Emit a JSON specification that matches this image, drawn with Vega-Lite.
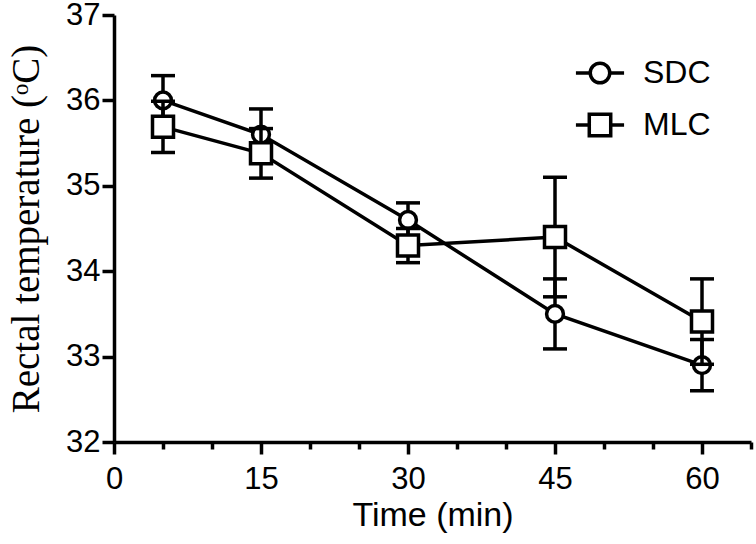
{
  "$schema": "https://vega.github.io/schema/vega-lite/v6.json",
  "width": 637,
  "height": 427,
  "autosize": {"type": "none"},
  "padding": {"left": 114, "top": 15, "right": 5, "bottom": 102},
  "background": "white",
  "config": {
    "view": {"stroke": null},
    "axis": {
      "grid": false,
      "domainColor": "black",
      "domainWidth": 3.5,
      "tickColor": "black",
      "tickWidth": 3.5,
      "labelFont": "Liberation Sans",
      "labelFontSize": 31,
      "labelColor": "black",
      "titleColor": "black"
    }
  },
  "data": {
    "values": [
      {"group": "SDC", "time": 5, "mean": 36.0, "lo": 35.71, "hi": 36.29},
      {"group": "SDC", "time": 15, "mean": 35.6, "lo": 35.3, "hi": 35.9},
      {"group": "SDC", "time": 30, "mean": 34.6, "lo": 34.4, "hi": 34.8},
      {"group": "SDC", "time": 45, "mean": 33.5, "lo": 33.09, "hi": 33.91},
      {"group": "SDC", "time": 60, "mean": 32.9, "lo": 32.6, "hi": 33.2},
      {"group": "MLC", "time": 5, "mean": 35.69, "lo": 35.39, "hi": 35.99},
      {"group": "MLC", "time": 15, "mean": 35.38, "lo": 35.09, "hi": 35.67},
      {"group": "MLC", "time": 30, "mean": 34.3, "lo": 34.1, "hi": 34.5},
      {"group": "MLC", "time": 45, "mean": 34.4, "lo": 33.7, "hi": 35.1},
      {"group": "MLC", "time": 60, "mean": 33.41, "lo": 32.91, "hi": 33.91}
    ]
  },
  "layer": [
    {
      "transform": [{"filter": "datum.group === 'SDC'"}],
      "encoding": {
        "x": {
          "field": "time", "type": "quantitative",
          "scale": {"domain": [0, 65], "nice": false, "zero": false},
          "axis": {
            "values": [0, 5, 10, 15, 20, 25, 30, 35, 40, 45, 50, 55, 60, 65],
            "labelExpr": "datum.value % 15 === 0 ? format(datum.value, 'd') : ''",
            "tickSize": {"condition": {"test": "datum.value % 15 === 0", "value": 12}, "value": 7},
            "labelPadding": 10,
            "labelFlush": false,
            "labelOverlap": false,
            "title": "Time (min)",
            "titleFont": "Liberation Sans",
            "titleFontSize": 34,
            "titleFontWeight": "normal",
            "titlePadding": 4
          }
        }
      },
      "layer": [
        {
          "mark": {"type": "rule", "strokeWidth": 3.5, "color": "black"},
          "encoding": {
            "y": {
              "field": "lo", "type": "quantitative",
              "scale": {"domain": [32, 37], "nice": false, "zero": false},
              "axis": {
                "values": [32, 32.5, 33, 33.5, 34, 34.5, 35, 35.5, 36, 36.5, 37],
                "format": "d",
                "labelExpr": "datum.value % 1 === 0 ? format(datum.value, 'd') : ''",
                "tickSize": {"condition": {"test": "datum.value % 1 === 0", "value": 12}, "value": 7},
                "labelPadding": 2,
                "labelFlush": false,
                "labelOverlap": false,
                "title": "Rectal temperature (ᵒC)",
                "titleFont": "Liberation Serif",
                "titleFontSize": 39,
                "titleFontWeight": "normal",
                "titlePadding": 19
              }
            },
            "y2": {"field": "hi"}
          }
        },
        {
          "mark": {"type": "tick", "orient": "horizontal", "size": 24, "thickness": 3.5, "color": "black", "opacity": 1},
          "encoding": {"y": {"field": "lo", "type": "quantitative"}}
        },
        {
          "mark": {"type": "tick", "orient": "horizontal", "size": 24, "thickness": 3.5, "color": "black", "opacity": 1},
          "encoding": {"y": {"field": "hi", "type": "quantitative"}}
        },
        {
          "mark": {"type": "line", "strokeWidth": 3.5, "color": "black"},
          "encoding": {"y": {"field": "mean", "type": "quantitative"}}
        },
        {
          "mark": {"type": "point", "shape": "circle", "size": 283, "filled": true, "fill": "white", "stroke": "black", "strokeWidth": 3.5, "opacity": 1},
          "encoding": {"y": {"field": "mean", "type": "quantitative"}}
        }
      ]
    },
    {
      "transform": [{"filter": "datum.group === 'MLC'"}],
      "encoding": {
        "x": {"field": "time", "type": "quantitative"}
      },
      "layer": [
        {
          "mark": {"type": "rule", "strokeWidth": 3.5, "color": "black"},
          "encoding": {"y": {"field": "lo", "type": "quantitative"}, "y2": {"field": "hi"}}
        },
        {
          "mark": {"type": "tick", "orient": "horizontal", "size": 24, "thickness": 3.5, "color": "black", "opacity": 1},
          "encoding": {"y": {"field": "lo", "type": "quantitative"}}
        },
        {
          "mark": {"type": "tick", "orient": "horizontal", "size": 24, "thickness": 3.5, "color": "black", "opacity": 1},
          "encoding": {"y": {"field": "hi", "type": "quantitative"}}
        },
        {
          "mark": {"type": "line", "strokeWidth": 3.5, "color": "black"},
          "encoding": {"y": {"field": "mean", "type": "quantitative"}}
        },
        {
          "mark": {"type": "point", "shape": "square", "size": 441, "filled": true, "fill": "white", "stroke": "black", "strokeWidth": 3.5, "opacity": 1},
          "encoding": {"y": {"field": "mean", "type": "quantitative"}}
        }
      ]
    },
    {
      "mark": {"type": "point", "size": 0, "filled": false, "stroke": "black", "strokeWidth": 3.5},
      "encoding": {
        "x": {"field": "time", "type": "quantitative"},
        "y": {"field": "mean", "type": "quantitative"},
        "shape": {
          "field": "group", "type": "nominal",
          "scale": {
            "domain": ["SDC", "MLC"],
            "range": [
              "M-1,0A1,1,0,1,1,1,0A1,1,0,1,1,-1,0Z M-2.47,0L-1,0 M1,0L2.47,0",
              "M-1.1,-1.1L1.1,-1.1L1.1,1.1L-1.1,1.1Z M-2.47,0L-1.1,0 M1.1,0L2.47,0"
            ]
          },
          "legend": {
            "title": null,
            "orient": "none",
            "legendX": 470,
            "legendY": 42,
            "padding": 0,
            "symbolSize": 380,
            "symbolStrokeWidth": 3.5,
            "symbolStrokeColor": "black",
            "symbolFillColor": "white",
            "symbolOpacity": 1,
            "labelFont": "Liberation Sans",
            "labelFontSize": 32,
            "labelColor": "black",
            "labelOffset": 27,
            "rowPadding": 17
          }
        }
      }
    }
  ]
}
